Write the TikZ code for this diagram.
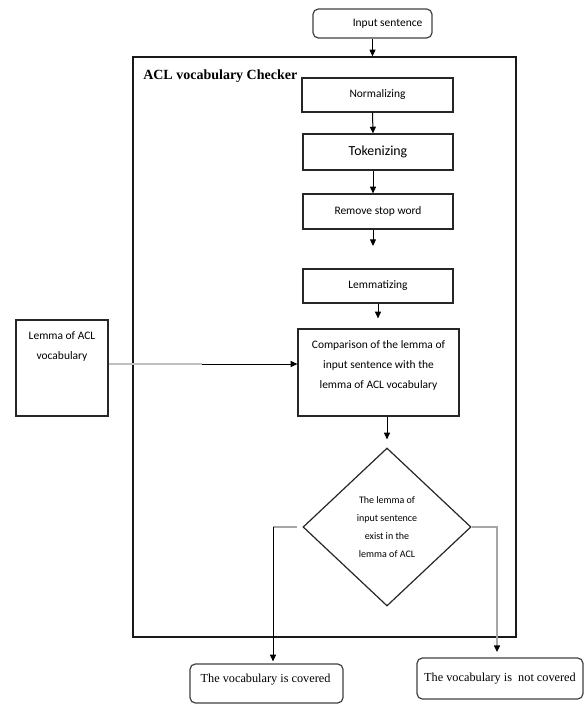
\documentclass[tikz,border=0pt]{standalone}
\usepackage{fontspec}
\setmainfont{Liberation Serif}
\newfontfamily\calfont{Carlito}
\usetikzlibrary{arrows.meta,shapes.geometric}
\def\pxu{0.75pt}
\begin{document}
\begin{tikzpicture}[x=0.75pt,y=-0.75pt,
  sansfont/.style={font=\calfont\fontsize{8.6}{15}\selectfont},
  box/.style={draw=black!85, line width=0.9pt, inner sep=0pt, sansfont, align=center},
  rbox/.style={draw=black!75, line width=0.9pt, rounded corners=4pt, inner sep=0pt},
  outfont/.style={font=\fontsize{9.2}{11}\selectfont},
  arr/.style={-{Triangle[length=5pt,width=4.5pt]}, line width=0.75pt},
  gline/.style={draw=black!35, line width=1pt}]
\useasboundingbox (0,0) rectangle (584,705);

% input
\node[rbox, minimum width=119*\pxu, minimum height=29*\pxu,
  label={[sansfont, anchor=east, inner sep=0pt, xshift=-7.5pt]east:Input sentence}] (input) at (372.5,23.5) {};

% checker frame
\node[draw=black!90, line width=1pt, minimum width=383*\pxu, minimum height=580*\pxu, inner sep=0pt] (checker) at (324.5,347) {};
\node[anchor=west, inner sep=0pt, font=\bfseries\fontsize{10.5}{12}\selectfont] (title) at (143,76) {ACL vocabulary Checker};

% process boxes
\node[box, minimum width=151*\pxu, minimum height=34*\pxu] (norm) at (377.5,95) {Normalizing};
\node[box, minimum width=150*\pxu, minimum height=36*\pxu, font=\calfont\fontsize{10.4}{12}\selectfont] (tok) at (378,152) {Tokenizing};
\node[box, minimum width=150*\pxu, minimum height=35*\pxu] (rsw) at (378,211.5) {Remove stop word};
\node[box, minimum width=150*\pxu, minimum height=34*\pxu] (lem) at (378,286) {Lemmatizing};
\node[box, minimum width=161*\pxu, minimum height=87*\pxu,
  label={[sansfont, align=center, inner sep=0pt, yshift=5.6pt]center:Comparison of the lemma of\\input sentence with the\\lemma of ACL vocabulary}] (comp) at (378.5,372.5) {};

% lemma of ACL vocabulary
\node[box, minimum width=92*\pxu, minimum height=96*\pxu,
  label={[sansfont, align=center, inner sep=0pt, yshift=16.5pt]center:Lemma of ACL\\vocabulary}] (lemma) at (62,368) {};

% decision
\node[diamond, draw=black!85, line width=0.9pt, minimum width=168*\pxu, minimum height=158*\pxu, inner sep=0pt,
  align=center, font=\calfont\fontsize{7.5}{13.5}\selectfont] (dia) at (387,527) {The lemma of\\input sentence\\exist in the\\lemma of ACL};

% outcomes
\node[rbox, minimum width=153*\pxu, minimum height=39*\pxu,
  label={[outfont, anchor=west, inner sep=0pt, xshift=8.25pt, yshift=2.6pt]west:The vocabulary is covered}] (cov) at (266.5,683.5) {};
\node[rbox, minimum width=166*\pxu, minimum height=41*\pxu, outfont] (ncov) at (500,678.5) {The vocabulary is\ \ not covered};

% connectors
\draw[arr] (input.south) -- (input.south |- checker.north);
\draw[arr] ([xshift=-3.75pt]norm.south) -- ([xshift=-3.75pt]tok.north);
\draw[arr] ([xshift=-3.75pt]tok.south) -- ([xshift=-3.75pt]rsw.north);
\coordinate (gap) at (373,246);
\draw[arr] (rsw.south -| gap) -- (gap);
\draw[arr, shorten >=7.5pt] (lem.south) -- (lem.south |- comp.north);
\draw[arr, shorten >=6pt] (comp.south -| dia.north) -- (dia.north);

\coordinate (mid) at (202,364);
\draw[gline, draw=black!25] (lemma.east |- mid) -- (mid);
\draw[arr] (mid) -- (mid -| comp.west);

\coordinate (lb) at (273,527);
\draw[gline] ([xshift=-4pt]dia.west) -- (lb);
\draw[arr, shorten >=1.5pt] (lb) -- (lb |- cov.north);

\coordinate (rb) at (497,527);
\draw[gline, -{Triangle[length=5pt,width=4.5pt,black]}, shorten >=4pt] (dia.east) -| (rb |- ncov.north);
\end{tikzpicture}
\end{document}
